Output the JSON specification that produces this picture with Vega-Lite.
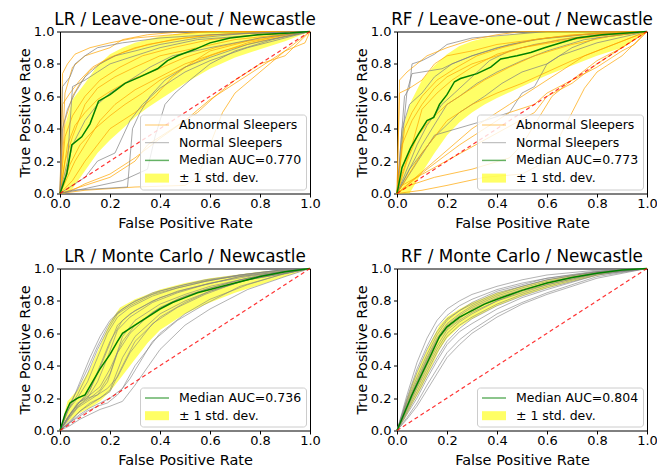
{
"$schema":"https://vega.github.io/schema/vega-lite/v6.json",
"padding":{"left":16,"top":10.5,"right":0,"bottom":0},
"config":{"font":"DejaVu Sans","view":{"stroke":"black","strokeWidth":1},
"axis":{"grid":false,"domain":false,"tickColor":"black","tickSize":3.5,"labelColor":"black","labelFontSize":13,"titleFontSize":14.5,"titleFontWeight":"normal","titleColor":"black","labelFlush":false,"labelOverlap":false,"format":".1f"},
"axisX":{"labelPadding":0,"titlePadding":6},
"axisY":{"labelPadding":2.5,"titlePadding":1},
"title":{"fontSize":16.8,"fontWeight":"normal","color":"black","offset":-3},
"legend":{"orient":"bottom-right","offset":4,"symbolType":"M-2.75,0H9.25","symbolSize":16,"clipHeight":13,"labelFontSize":12.5,"labelColor":"black","labelOffset":22,"rowPadding":4.7,"padding":4,"fillColor":"rgba(255,255,255,0.8)","strokeColor":"#cccccc","cornerRadius":3}},
"datasets":{
"diag":[{"x":0,"y":0},{"x":1,"y":1}],
"tlb":[{"s":"S","x":0,"lo":0,"hi":0},{"s":"S","x":0.02,"lo":0,"hi":0.42},{"s":"S","x":0.05,"lo":0.03,"hi":0.58},{"s":"S","x":0.1,"lo":0.14,"hi":0.68},{"s":"S","x":0.15,"lo":0.25,"hi":0.79},{"s":"S","x":0.2,"lo":0.33,"hi":0.86},{"s":"S","x":0.25,"lo":0.4,"hi":0.9},{"s":"S","x":0.3,"lo":0.47,"hi":0.93},{"s":"S","x":0.35,"lo":0.53,"hi":0.95},{"s":"S","x":0.4,"lo":0.58,"hi":0.97},{"s":"S","x":0.5,"lo":0.68,"hi":0.99},{"s":"S","x":0.6,"lo":0.77,"hi":1},{"s":"S","x":0.7,"lo":0.84,"hi":1},{"s":"S","x":0.8,"lo":0.89,"hi":1},{"s":"S","x":0.9,"lo":0.94,"hi":1},{"s":"S","x":1,"lo":1,"hi":1}],
"tlm":[{"s":"M","x":0,"y":0},{"s":"M","x":0.027,"y":0.12},{"s":"M","x":0.047,"y":0.3},{"s":"M","x":0.087,"y":0.35},{"s":"M","x":0.12,"y":0.43},{"s":"M","x":0.154,"y":0.57},{"s":"M","x":0.2,"y":0.61},{"s":"M","x":0.26,"y":0.68},{"s":"M","x":0.32,"y":0.72},{"s":"M","x":0.39,"y":0.77},{"s":"M","x":0.43,"y":0.82},{"s":"M","x":0.47,"y":0.85},{"s":"M","x":0.54,"y":0.89},{"s":"M","x":0.6,"y":0.93},{"s":"M","x":0.68,"y":0.96},{"s":"M","x":0.79,"y":0.98},{"s":"M","x":0.92,"y":0.99},{"s":"M","x":1,"y":1}],
"tlc":[
{"c":"a1","s":"A","x":0,"y":0},{"c":"a1","s":"A","x":0.01,"y":0.74},{"c":"a1","s":"A","x":0.03,"y":0.8},{"c":"a1","s":"A","x":0.06,"y":0.86},{"c":"a1","s":"A","x":0.12,"y":0.9},{"c":"a1","s":"A","x":0.2,"y":0.93},{"c":"a1","s":"A","x":0.3,"y":0.96},{"c":"a1","s":"A","x":0.45,"y":0.98},{"c":"a1","s":"A","x":0.6,"y":1},{"c":"a1","s":"A","x":1,"y":1},
{"c":"a2","s":"A","x":0,"y":0},{"c":"a2","s":"A","x":0.02,"y":0.45},{"c":"a2","s":"A","x":0.05,"y":0.6},{"c":"a2","s":"A","x":0.08,"y":0.68},{"c":"a2","s":"A","x":0.12,"y":0.76},{"c":"a2","s":"A","x":0.18,"y":0.82},{"c":"a2","s":"A","x":0.25,"y":0.87},{"c":"a2","s":"A","x":0.35,"y":0.92},{"c":"a2","s":"A","x":0.5,"y":0.96},{"c":"a2","s":"A","x":0.7,"y":0.99},{"c":"a2","s":"A","x":1,"y":1},
{"c":"a3","s":"A","x":0,"y":0},{"c":"a3","s":"A","x":0.03,"y":0.3},{"c":"a3","s":"A","x":0.06,"y":0.42},{"c":"a3","s":"A","x":0.1,"y":0.5},{"c":"a3","s":"A","x":0.15,"y":0.58},{"c":"a3","s":"A","x":0.2,"y":0.63},{"c":"a3","s":"A","x":0.28,"y":0.7},{"c":"a3","s":"A","x":0.38,"y":0.76},{"c":"a3","s":"A","x":0.5,"y":0.84},{"c":"a3","s":"A","x":0.62,"y":0.9},{"c":"a3","s":"A","x":0.8,"y":0.96},{"c":"a3","s":"A","x":1,"y":1},
{"c":"a4","s":"A","x":0,"y":0},{"c":"a4","s":"A","x":0.04,"y":0.18},{"c":"a4","s":"A","x":0.08,"y":0.3},{"c":"a4","s":"A","x":0.14,"y":0.4},{"c":"a4","s":"A","x":0.2,"y":0.48},{"c":"a4","s":"A","x":0.26,"y":0.55},{"c":"a4","s":"A","x":0.33,"y":0.62},{"c":"a4","s":"A","x":0.4,"y":0.7},{"c":"a4","s":"A","x":0.5,"y":0.78},{"c":"a4","s":"A","x":0.6,"y":0.85},{"c":"a4","s":"A","x":0.75,"y":0.93},{"c":"a4","s":"A","x":0.9,"y":0.98},{"c":"a4","s":"A","x":1,"y":1},
{"c":"a5","s":"A","x":0,"y":0},{"c":"a5","s":"A","x":0.05,"y":0.02},{"c":"a5","s":"A","x":0.1,"y":0.06},{"c":"a5","s":"A","x":0.2,"y":0.12},{"c":"a5","s":"A","x":0.3,"y":0.22},{"c":"a5","s":"A","x":0.4,"y":0.34},{"c":"a5","s":"A","x":0.5,"y":0.45},{"c":"a5","s":"A","x":0.6,"y":0.58},{"c":"a5","s":"A","x":0.7,"y":0.68},{"c":"a5","s":"A","x":0.8,"y":0.78},{"c":"a5","s":"A","x":0.9,"y":0.88},{"c":"a5","s":"A","x":0.98,"y":0.93},{"c":"a5","s":"A","x":1,"y":1},
{"c":"a6","s":"A","x":0,"y":0},{"c":"a6","s":"A","x":0.1,"y":0.02},{"c":"a6","s":"A","x":0.3,"y":0.04},{"c":"a6","s":"A","x":0.5,"y":0.05},{"c":"a6","s":"A","x":0.55,"y":0.1},{"c":"a6","s":"A","x":0.6,"y":0.3},{"c":"a6","s":"A","x":0.65,"y":0.5},{"c":"a6","s":"A","x":0.7,"y":0.62},{"c":"a6","s":"A","x":0.8,"y":0.75},{"c":"a6","s":"A","x":0.9,"y":0.88},{"c":"a6","s":"A","x":1,"y":1},
{"c":"a7","s":"A","x":0,"y":0},{"c":"a7","s":"A","x":0.01,"y":0.55},{"c":"a7","s":"A","x":0.04,"y":0.62},{"c":"a7","s":"A","x":0.08,"y":0.7},{"c":"a7","s":"A","x":0.13,"y":0.78},{"c":"a7","s":"A","x":0.2,"y":0.84},{"c":"a7","s":"A","x":0.3,"y":0.9},{"c":"a7","s":"A","x":0.45,"y":0.95},{"c":"a7","s":"A","x":0.6,"y":0.98},{"c":"a7","s":"A","x":1,"y":1},
{"c":"a8","s":"A","x":0,"y":0},{"c":"a8","s":"A","x":0.02,"y":0.2},{"c":"a8","s":"A","x":0.05,"y":0.35},{"c":"a8","s":"A","x":0.1,"y":0.55},{"c":"a8","s":"A","x":0.15,"y":0.65},{"c":"a8","s":"A","x":0.22,"y":0.72},{"c":"a8","s":"A","x":0.3,"y":0.78},{"c":"a8","s":"A","x":0.4,"y":0.85},{"c":"a8","s":"A","x":0.55,"y":0.9},{"c":"a8","s":"A","x":0.7,"y":0.95},{"c":"a8","s":"A","x":1,"y":1},
{"c":"a9","s":"A","x":0,"y":0},{"c":"a9","s":"A","x":0.05,"y":0.08},{"c":"a9","s":"A","x":0.1,"y":0.2},{"c":"a9","s":"A","x":0.15,"y":0.3},{"c":"a9","s":"A","x":0.2,"y":0.4},{"c":"a9","s":"A","x":0.3,"y":0.5},{"c":"a9","s":"A","x":0.38,"y":0.6},{"c":"a9","s":"A","x":0.45,"y":0.72},{"c":"a9","s":"A","x":0.52,"y":0.8},{"c":"a9","s":"A","x":0.6,"y":0.88},{"c":"a9","s":"A","x":0.75,"y":0.94},{"c":"a9","s":"A","x":1,"y":1},
{"c":"a10","s":"A","x":0,"y":0},{"c":"a10","s":"A","x":0.02,"y":0.62},{"c":"a10","s":"A","x":0.05,"y":0.78},{"c":"a10","s":"A","x":0.1,"y":0.85},{"c":"a10","s":"A","x":0.2,"y":0.9},{"c":"a10","s":"A","x":0.25,"y":0.95},{"c":"a10","s":"A","x":0.35,"y":0.98},{"c":"a10","s":"A","x":0.5,"y":1},{"c":"a10","s":"A","x":1,"y":1},
{"c":"a11","s":"A","x":0,"y":0},{"c":"a11","s":"A","x":0.1,"y":0.05},{"c":"a11","s":"A","x":0.2,"y":0.1},{"c":"a11","s":"A","x":0.3,"y":0.2},{"c":"a11","s":"A","x":0.35,"y":0.3},{"c":"a11","s":"A","x":0.45,"y":0.4},{"c":"a11","s":"A","x":0.55,"y":0.5},{"c":"a11","s":"A","x":0.62,"y":0.6},{"c":"a11","s":"A","x":0.7,"y":0.7},{"c":"a11","s":"A","x":0.8,"y":0.8},{"c":"a11","s":"A","x":0.9,"y":0.85},{"c":"a11","s":"A","x":1,"y":1},
{"c":"a12","s":"A","x":0,"y":0},{"c":"a12","s":"A","x":0.03,"y":0.1},{"c":"a12","s":"A","x":0.06,"y":0.2},{"c":"a12","s":"A","x":0.1,"y":0.3},{"c":"a12","s":"A","x":0.16,"y":0.45},{"c":"a12","s":"A","x":0.22,"y":0.55},{"c":"a12","s":"A","x":0.3,"y":0.64},{"c":"a12","s":"A","x":0.4,"y":0.72},{"c":"a12","s":"A","x":0.5,"y":0.8},{"c":"a12","s":"A","x":0.65,"y":0.88},{"c":"a12","s":"A","x":0.8,"y":0.94},{"c":"a12","s":"A","x":1,"y":1},
{"c":"a13","s":"A","x":0,"y":0},{"c":"a13","s":"A","x":0.02,"y":0.35},{"c":"a13","s":"A","x":0.05,"y":0.48},{"c":"a13","s":"A","x":0.1,"y":0.6},{"c":"a13","s":"A","x":0.16,"y":0.7},{"c":"a13","s":"A","x":0.24,"y":0.78},{"c":"a13","s":"A","x":0.33,"y":0.85},{"c":"a13","s":"A","x":0.45,"y":0.9},{"c":"a13","s":"A","x":0.6,"y":0.95},{"c":"a13","s":"A","x":0.8,"y":0.98},{"c":"a13","s":"A","x":1,"y":1},
{"c":"n1","s":"N","x":0,"y":0},{"c":"n1","s":"N","x":0.01,"y":0.66},{"c":"n1","s":"N","x":0.04,"y":0.72},{"c":"n1","s":"N","x":0.06,"y":0.8},{"c":"n1","s":"N","x":0.1,"y":0.85},{"c":"n1","s":"N","x":0.15,"y":0.9},{"c":"n1","s":"N","x":0.25,"y":0.93},{"c":"n1","s":"N","x":0.4,"y":0.96},{"c":"n1","s":"N","x":0.6,"y":0.98},{"c":"n1","s":"N","x":1,"y":1},
{"c":"n2","s":"N","x":0,"y":0},{"c":"n2","s":"N","x":0.03,"y":0.2},{"c":"n2","s":"N","x":0.05,"y":0.66},{"c":"n2","s":"N","x":0.1,"y":0.7},{"c":"n2","s":"N","x":0.15,"y":0.75},{"c":"n2","s":"N","x":0.2,"y":0.8},{"c":"n2","s":"N","x":0.3,"y":0.85},{"c":"n2","s":"N","x":0.4,"y":0.9},{"c":"n2","s":"N","x":0.55,"y":0.95},{"c":"n2","s":"N","x":0.8,"y":0.98},{"c":"n2","s":"N","x":1,"y":1},
{"c":"n3","s":"N","x":0,"y":0},{"c":"n3","s":"N","x":0.05,"y":0.02},{"c":"n3","s":"N","x":0.27,"y":0.04},{"c":"n3","s":"N","x":0.29,"y":0.4},{"c":"n3","s":"N","x":0.32,"y":0.5},{"c":"n3","s":"N","x":0.36,"y":0.6},{"c":"n3","s":"N","x":0.42,"y":0.7},{"c":"n3","s":"N","x":0.5,"y":0.78},{"c":"n3","s":"N","x":0.6,"y":0.84},{"c":"n3","s":"N","x":0.75,"y":0.92},{"c":"n3","s":"N","x":0.9,"y":0.97},{"c":"n3","s":"N","x":1,"y":1},
{"c":"n4","s":"N","x":0,"y":0},{"c":"n4","s":"N","x":0.1,"y":0.03},{"c":"n4","s":"N","x":0.25,"y":0.08},{"c":"n4","s":"N","x":0.35,"y":0.15},{"c":"n4","s":"N","x":0.38,"y":0.35},{"c":"n4","s":"N","x":0.42,"y":0.55},{"c":"n4","s":"N","x":0.46,"y":0.62},{"c":"n4","s":"N","x":0.52,"y":0.7},{"c":"n4","s":"N","x":0.6,"y":0.8},{"c":"n4","s":"N","x":0.7,"y":0.88},{"c":"n4","s":"N","x":0.85,"y":0.95},{"c":"n4","s":"N","x":1,"y":1},
{"c":"n5","s":"N","x":0,"y":0},{"c":"n5","s":"N","x":0.02,"y":0.1},{"c":"n5","s":"N","x":0.05,"y":0.3},{"c":"n5","s":"N","x":0.1,"y":0.45},{"c":"n5","s":"N","x":0.15,"y":0.55},{"c":"n5","s":"N","x":0.2,"y":0.62},{"c":"n5","s":"N","x":0.28,"y":0.7},{"c":"n5","s":"N","x":0.36,"y":0.78},{"c":"n5","s":"N","x":0.45,"y":0.85},{"c":"n5","s":"N","x":0.6,"y":0.9},{"c":"n5","s":"N","x":0.8,"y":0.96},{"c":"n5","s":"N","x":1,"y":1},
{"c":"n6","s":"N","x":0,"y":0},{"c":"n6","s":"N","x":0.01,"y":0.4},{"c":"n6","s":"N","x":0.03,"y":0.52},{"c":"n6","s":"N","x":0.06,"y":0.62},{"c":"n6","s":"N","x":0.1,"y":0.72},{"c":"n6","s":"N","x":0.16,"y":0.8},{"c":"n6","s":"N","x":0.22,"y":0.85},{"c":"n6","s":"N","x":0.3,"y":0.88},{"c":"n6","s":"N","x":0.4,"y":0.92},{"c":"n6","s":"N","x":0.55,"y":0.96},{"c":"n6","s":"N","x":0.75,"y":0.99},{"c":"n6","s":"N","x":1,"y":1},
{"c":"n7","s":"N","x":0,"y":0},{"c":"n7","s":"N","x":0.05,"y":0.05},{"c":"n7","s":"N","x":0.1,"y":0.1},{"c":"n7","s":"N","x":0.15,"y":0.2},{"c":"n7","s":"N","x":0.22,"y":0.25},{"c":"n7","s":"N","x":0.28,"y":0.45},{"c":"n7","s":"N","x":0.33,"y":0.55},{"c":"n7","s":"N","x":0.4,"y":0.65},{"c":"n7","s":"N","x":0.5,"y":0.75},{"c":"n7","s":"N","x":0.6,"y":0.82},{"c":"n7","s":"N","x":0.75,"y":0.9},{"c":"n7","s":"N","x":1,"y":1}],
"trb":[{"s":"S","x":0,"lo":0,"hi":0},{"s":"S","x":0.02,"lo":0,"hi":0.38},{"s":"S","x":0.05,"lo":0,"hi":0.55},{"s":"S","x":0.1,"lo":0.13,"hi":0.7},{"s":"S","x":0.15,"lo":0.25,"hi":0.79},{"s":"S","x":0.2,"lo":0.36,"hi":0.86},{"s":"S","x":0.25,"lo":0.44,"hi":0.91},{"s":"S","x":0.3,"lo":0.5,"hi":0.94},{"s":"S","x":0.35,"lo":0.55,"hi":0.96},{"s":"S","x":0.4,"lo":0.59,"hi":0.97},{"s":"S","x":0.5,"lo":0.66,"hi":0.99},{"s":"S","x":0.6,"lo":0.73,"hi":1},{"s":"S","x":0.7,"lo":0.79,"hi":1},{"s":"S","x":0.8,"lo":0.85,"hi":1},{"s":"S","x":0.9,"lo":0.9,"hi":1},{"s":"S","x":1,"lo":1,"hi":1}],
"trm":[{"s":"M","x":0,"y":0},{"s":"M","x":0.02,"y":0.16},{"s":"M","x":0.054,"y":0.28},{"s":"M","x":0.087,"y":0.37},{"s":"M","x":0.12,"y":0.45},{"s":"M","x":0.147,"y":0.47},{"s":"M","x":0.17,"y":0.55},{"s":"M","x":0.2,"y":0.61},{"s":"M","x":0.23,"y":0.69},{"s":"M","x":0.254,"y":0.71},{"s":"M","x":0.32,"y":0.74},{"s":"M","x":0.375,"y":0.78},{"s":"M","x":0.415,"y":0.83},{"s":"M","x":0.48,"y":0.85},{"s":"M","x":0.535,"y":0.87},{"s":"M","x":0.59,"y":0.9},{"s":"M","x":0.656,"y":0.93},{"s":"M","x":0.72,"y":0.96},{"s":"M","x":0.82,"y":0.98},{"s":"M","x":0.92,"y":0.99},{"s":"M","x":1,"y":1}],
"trc":[
{"c":"g1","s":"N","x":0,"y":0},{"c":"g1","s":"N","x":0.03,"y":0.6},{"c":"g1","s":"N","x":0.05,"y":0.65},{"c":"g1","s":"N","x":0.06,"y":0.8},{"c":"g1","s":"N","x":0.1,"y":0.82},{"c":"g1","s":"N","x":0.15,"y":0.86},{"c":"g1","s":"N","x":0.2,"y":0.92},{"c":"g1","s":"N","x":0.3,"y":0.96},{"c":"g1","s":"N","x":0.45,"y":0.98},{"c":"g1","s":"N","x":0.6,"y":1},{"c":"g1","s":"N","x":1,"y":1},
{"c":"g2","s":"N","x":0,"y":0},{"c":"g2","s":"N","x":0.04,"y":0.63},{"c":"g2","s":"N","x":0.06,"y":0.74},{"c":"g2","s":"N","x":0.1,"y":0.75},{"c":"g2","s":"N","x":0.18,"y":0.77},{"c":"g2","s":"N","x":0.22,"y":0.8},{"c":"g2","s":"N","x":0.3,"y":0.85},{"c":"g2","s":"N","x":0.45,"y":0.92},{"c":"g2","s":"N","x":0.6,"y":0.96},{"c":"g2","s":"N","x":0.8,"y":0.99},{"c":"g2","s":"N","x":1,"y":1},
{"c":"g3","s":"N","x":0,"y":0},{"c":"g3","s":"N","x":0.15,"y":0.36},{"c":"g3","s":"N","x":0.35,"y":0.45},{"c":"g3","s":"N","x":0.45,"y":0.5},{"c":"g3","s":"N","x":0.5,"y":0.62},{"c":"g3","s":"N","x":0.55,"y":0.66},{"c":"g3","s":"N","x":0.6,"y":0.8},{"c":"g3","s":"N","x":0.7,"y":0.9},{"c":"g3","s":"N","x":0.8,"y":0.96},{"c":"g3","s":"N","x":1,"y":1},
{"c":"g4","s":"N","x":0,"y":0},{"c":"g4","s":"N","x":0.1,"y":0.3},{"c":"g4","s":"N","x":0.2,"y":0.55},{"c":"g4","s":"N","x":0.25,"y":0.6},{"c":"g4","s":"N","x":0.32,"y":0.68},{"c":"g4","s":"N","x":0.4,"y":0.75},{"c":"g4","s":"N","x":0.5,"y":0.82},{"c":"g4","s":"N","x":0.6,"y":0.88},{"c":"g4","s":"N","x":0.75,"y":0.95},{"c":"g4","s":"N","x":1,"y":1},
{"c":"g5","s":"N","x":0,"y":0},{"c":"g5","s":"N","x":0.05,"y":0.15},{"c":"g5","s":"N","x":0.15,"y":0.35},{"c":"g5","s":"N","x":0.25,"y":0.5},{"c":"g5","s":"N","x":0.35,"y":0.6},{"c":"g5","s":"N","x":0.42,"y":0.68},{"c":"g5","s":"N","x":0.5,"y":0.75},{"c":"g5","s":"N","x":0.6,"y":0.8},{"c":"g5","s":"N","x":0.65,"y":0.85},{"c":"g5","s":"N","x":0.8,"y":0.93},{"c":"g5","s":"N","x":1,"y":1},
{"c":"g6","s":"N","x":0,"y":0},{"c":"g6","s":"N","x":0.08,"y":0.3},{"c":"g6","s":"N","x":0.12,"y":0.42},{"c":"g6","s":"N","x":0.18,"y":0.55},{"c":"g6","s":"N","x":0.23,"y":0.62},{"c":"g6","s":"N","x":0.3,"y":0.72},{"c":"g6","s":"N","x":0.37,"y":0.82},{"c":"g6","s":"N","x":0.45,"y":0.88},{"c":"g6","s":"N","x":0.55,"y":0.92},{"c":"g6","s":"N","x":0.7,"y":0.96},{"c":"g6","s":"N","x":1,"y":1},
{"c":"g7","s":"N","x":0,"y":0},{"c":"g7","s":"N","x":0.02,"y":0.4},{"c":"g7","s":"N","x":0.05,"y":0.55},{"c":"g7","s":"N","x":0.1,"y":0.62},{"c":"g7","s":"N","x":0.15,"y":0.72},{"c":"g7","s":"N","x":0.22,"y":0.8},{"c":"g7","s":"N","x":0.3,"y":0.85},{"c":"g7","s":"N","x":0.4,"y":0.9},{"c":"g7","s":"N","x":0.55,"y":0.95},{"c":"g7","s":"N","x":0.75,"y":0.98},{"c":"g7","s":"N","x":1,"y":1},
{"c":"o1","s":"A","x":0,"y":0},{"c":"o1","s":"A","x":0.01,"y":0.7},{"c":"o1","s":"A","x":0.04,"y":0.75},{"c":"o1","s":"A","x":0.08,"y":0.8},{"c":"o1","s":"A","x":0.12,"y":0.85},{"c":"o1","s":"A","x":0.2,"y":0.9},{"c":"o1","s":"A","x":0.3,"y":0.95},{"c":"o1","s":"A","x":0.4,"y":0.98},{"c":"o1","s":"A","x":0.5,"y":1},{"c":"o1","s":"A","x":1,"y":1},
{"c":"o2","s":"A","x":0,"y":0},{"c":"o2","s":"A","x":0.01,"y":0.62},{"c":"o2","s":"A","x":0.05,"y":0.65},{"c":"o2","s":"A","x":0.1,"y":0.7},{"c":"o2","s":"A","x":0.15,"y":0.8},{"c":"o2","s":"A","x":0.2,"y":0.85},{"c":"o2","s":"A","x":0.3,"y":0.88},{"c":"o2","s":"A","x":0.4,"y":0.92},{"c":"o2","s":"A","x":0.6,"y":0.96},{"c":"o2","s":"A","x":0.8,"y":0.99},{"c":"o2","s":"A","x":1,"y":1},
{"c":"o3","s":"A","x":0,"y":0},{"c":"o3","s":"A","x":0.02,"y":0.05},{"c":"o3","s":"A","x":0.55,"y":0.5},{"c":"o3","s":"A","x":0.6,"y":0.6},{"c":"o3","s":"A","x":0.7,"y":0.68},{"c":"o3","s":"A","x":0.8,"y":0.8},{"c":"o3","s":"A","x":0.9,"y":0.9},{"c":"o3","s":"A","x":1,"y":1},
{"c":"o4","s":"A","x":0,"y":0},{"c":"o4","s":"A","x":0.1,"y":0.02},{"c":"o4","s":"A","x":0.2,"y":0.05},{"c":"o4","s":"A","x":0.35,"y":0.1},{"c":"o4","s":"A","x":0.5,"y":0.12},{"c":"o4","s":"A","x":0.6,"y":0.2},{"c":"o4","s":"A","x":0.65,"y":0.35},{"c":"o4","s":"A","x":0.7,"y":0.5},{"c":"o4","s":"A","x":0.75,"y":0.65},{"c":"o4","s":"A","x":0.8,"y":0.75},{"c":"o4","s":"A","x":0.9,"y":0.85},{"c":"o4","s":"A","x":1,"y":1},
{"c":"o5","s":"A","x":0,"y":0},{"c":"o5","s":"A","x":0.05,"y":0.05},{"c":"o5","s":"A","x":0.15,"y":0.1},{"c":"o5","s":"A","x":0.3,"y":0.15},{"c":"o5","s":"A","x":0.45,"y":0.22},{"c":"o5","s":"A","x":0.5,"y":0.3},{"c":"o5","s":"A","x":0.58,"y":0.5},{"c":"o5","s":"A","x":0.62,"y":0.6},{"c":"o5","s":"A","x":0.7,"y":0.7},{"c":"o5","s":"A","x":0.8,"y":0.82},{"c":"o5","s":"A","x":0.9,"y":0.9},{"c":"o5","s":"A","x":1,"y":1},
{"c":"o6","s":"A","x":0,"y":0},{"c":"o6","s":"A","x":0.04,"y":0.2},{"c":"o6","s":"A","x":0.08,"y":0.35},{"c":"o6","s":"A","x":0.13,"y":0.45},{"c":"o6","s":"A","x":0.2,"y":0.55},{"c":"o6","s":"A","x":0.28,"y":0.63},{"c":"o6","s":"A","x":0.35,"y":0.7},{"c":"o6","s":"A","x":0.45,"y":0.78},{"c":"o6","s":"A","x":0.55,"y":0.85},{"c":"o6","s":"A","x":0.7,"y":0.92},{"c":"o6","s":"A","x":0.85,"y":0.97},{"c":"o6","s":"A","x":1,"y":1},
{"c":"o7","s":"A","x":0,"y":0},{"c":"o7","s":"A","x":0.02,"y":0.3},{"c":"o7","s":"A","x":0.06,"y":0.45},{"c":"o7","s":"A","x":0.1,"y":0.55},{"c":"o7","s":"A","x":0.15,"y":0.65},{"c":"o7","s":"A","x":0.2,"y":0.72},{"c":"o7","s":"A","x":0.3,"y":0.8},{"c":"o7","s":"A","x":0.4,"y":0.85},{"c":"o7","s":"A","x":0.5,"y":0.9},{"c":"o7","s":"A","x":0.65,"y":0.95},{"c":"o7","s":"A","x":0.8,"y":0.98},{"c":"o7","s":"A","x":1,"y":1},
{"c":"o8","s":"A","x":0,"y":0},{"c":"o8","s":"A","x":0.1,"y":0.25},{"c":"o8","s":"A","x":0.2,"y":0.45},{"c":"o8","s":"A","x":0.3,"y":0.55},{"c":"o8","s":"A","x":0.4,"y":0.62},{"c":"o8","s":"A","x":0.5,"y":0.68},{"c":"o8","s":"A","x":0.6,"y":0.75},{"c":"o8","s":"A","x":0.7,"y":0.82},{"c":"o8","s":"A","x":0.8,"y":0.88},{"c":"o8","s":"A","x":0.9,"y":0.94},{"c":"o8","s":"A","x":1,"y":1},
{"c":"o9","s":"A","x":0,"y":0},{"c":"o9","s":"A","x":0.02,"y":0.12},{"c":"o9","s":"A","x":0.06,"y":0.3},{"c":"o9","s":"A","x":0.1,"y":0.52},{"c":"o9","s":"A","x":0.16,"y":0.62},{"c":"o9","s":"A","x":0.22,"y":0.7},{"c":"o9","s":"A","x":0.3,"y":0.78},{"c":"o9","s":"A","x":0.4,"y":0.86},{"c":"o9","s":"A","x":0.5,"y":0.9},{"c":"o9","s":"A","x":0.65,"y":0.94},{"c":"o9","s":"A","x":0.85,"y":0.98},{"c":"o9","s":"A","x":1,"y":1},
{"c":"o10","s":"A","x":0,"y":0},{"c":"o10","s":"A","x":0.03,"y":0.4},{"c":"o10","s":"A","x":0.06,"y":0.5},{"c":"o10","s":"A","x":0.1,"y":0.6},{"c":"o10","s":"A","x":0.16,"y":0.7},{"c":"o10","s":"A","x":0.24,"y":0.78},{"c":"o10","s":"A","x":0.32,"y":0.85},{"c":"o10","s":"A","x":0.42,"y":0.9},{"c":"o10","s":"A","x":0.55,"y":0.95},{"c":"o10","s":"A","x":0.7,"y":0.98},{"c":"o10","s":"A","x":1,"y":1},
{"c":"o11","s":"A","x":0,"y":0},{"c":"o11","s":"A","x":0.12,"y":0.15},{"c":"o11","s":"A","x":0.25,"y":0.3},{"c":"o11","s":"A","x":0.35,"y":0.4},{"c":"o11","s":"A","x":0.45,"y":0.5},{"c":"o11","s":"A","x":0.55,"y":0.55},{"c":"o11","s":"A","x":0.6,"y":0.62},{"c":"o11","s":"A","x":0.7,"y":0.7},{"c":"o11","s":"A","x":0.8,"y":0.78},{"c":"o11","s":"A","x":0.9,"y":0.88},{"c":"o11","s":"A","x":0.95,"y":0.92},{"c":"o11","s":"A","x":1,"y":1},
{"c":"o12","s":"A","x":0,"y":0},{"c":"o12","s":"A","x":0.3,"y":0.4},{"c":"o12","s":"A","x":0.45,"y":0.55},{"c":"o12","s":"A","x":0.6,"y":0.7},{"c":"o12","s":"A","x":0.75,"y":0.85},{"c":"o12","s":"A","x":1,"y":1}],
"blb":[{"s":"S","x":0,"lo":0,"hi":0},{"s":"S","x":0.03,"lo":0.05,"hi":0.18},{"s":"S","x":0.07,"lo":0.1,"hi":0.25},{"s":"S","x":0.12,"lo":0.14,"hi":0.38},{"s":"S","x":0.16,"lo":0.18,"hi":0.52},{"s":"S","x":0.2,"lo":0.24,"hi":0.67},{"s":"S","x":0.24,"lo":0.32,"hi":0.76},{"s":"S","x":0.3,"lo":0.44,"hi":0.81},{"s":"S","x":0.35,"lo":0.54,"hi":0.84},{"s":"S","x":0.4,"lo":0.62,"hi":0.87},{"s":"S","x":0.5,"lo":0.72,"hi":0.91},{"s":"S","x":0.6,"lo":0.79,"hi":0.94},{"s":"S","x":0.7,"lo":0.85,"hi":0.96},{"s":"S","x":0.8,"lo":0.9,"hi":0.98},{"s":"S","x":0.9,"lo":0.95,"hi":0.99},{"s":"S","x":1,"lo":1,"hi":1}],
"blm":[{"s":"M","x":0,"y":0},{"s":"M","x":0.02,"y":0.1},{"s":"M","x":0.04,"y":0.17},{"s":"M","x":0.07,"y":0.2},{"s":"M","x":0.1,"y":0.22},{"s":"M","x":0.13,"y":0.3},{"s":"M","x":0.16,"y":0.38},{"s":"M","x":0.2,"y":0.47},{"s":"M","x":0.23,"y":0.55},{"s":"M","x":0.25,"y":0.6},{"s":"M","x":0.3,"y":0.65},{"s":"M","x":0.35,"y":0.7},{"s":"M","x":0.4,"y":0.75},{"s":"M","x":0.45,"y":0.79},{"s":"M","x":0.5,"y":0.82},{"s":"M","x":0.55,"y":0.85},{"s":"M","x":0.6,"y":0.87},{"s":"M","x":0.7,"y":0.91},{"s":"M","x":0.8,"y":0.95},{"s":"M","x":0.9,"y":0.98},{"s":"M","x":1,"y":1}],
"blc":[
{"c":1,"x":0,"y":0},{"c":1,"x":0.04,"y":0.15},{"c":1,"x":0.08,"y":0.3},{"c":1,"x":0.12,"y":0.45},{"c":1,"x":0.16,"y":0.58},{"c":1,"x":0.2,"y":0.68},{"c":1,"x":0.25,"y":0.75},{"c":1,"x":0.3,"y":0.8},{"c":1,"x":0.4,"y":0.86},{"c":1,"x":0.5,"y":0.9},{"c":1,"x":0.6,"y":0.93},{"c":1,"x":0.75,"y":0.96},{"c":1,"x":0.9,"y":0.99},{"c":1,"x":1,"y":1},
{"c":2,"x":0,"y":0},{"c":2,"x":0.03,"y":0.12},{"c":2,"x":0.07,"y":0.22},{"c":2,"x":0.11,"y":0.35},{"c":2,"x":0.15,"y":0.5},{"c":2,"x":0.19,"y":0.62},{"c":2,"x":0.23,"y":0.72},{"c":2,"x":0.28,"y":0.77},{"c":2,"x":0.37,"y":0.84},{"c":2,"x":0.47,"y":0.88},{"c":2,"x":0.58,"y":0.92},{"c":2,"x":0.72,"y":0.96},{"c":2,"x":0.88,"y":0.99},{"c":2,"x":1,"y":1},
{"c":3,"x":0,"y":0},{"c":3,"x":0.04,"y":0.1},{"c":3,"x":0.08,"y":0.18},{"c":3,"x":0.12,"y":0.25},{"c":3,"x":0.16,"y":0.4},{"c":3,"x":0.2,"y":0.55},{"c":3,"x":0.25,"y":0.68},{"c":3,"x":0.3,"y":0.74},{"c":3,"x":0.4,"y":0.82},{"c":3,"x":0.5,"y":0.87},{"c":3,"x":0.6,"y":0.91},{"c":3,"x":0.75,"y":0.95},{"c":3,"x":0.9,"y":0.98},{"c":3,"x":1,"y":1},
{"c":4,"x":0,"y":0},{"c":4,"x":0.03,"y":0.08},{"c":4,"x":0.07,"y":0.17},{"c":4,"x":0.11,"y":0.2},{"c":4,"x":0.15,"y":0.3},{"c":4,"x":0.19,"y":0.45},{"c":4,"x":0.23,"y":0.62},{"c":4,"x":0.28,"y":0.7},{"c":4,"x":0.37,"y":0.79},{"c":4,"x":0.47,"y":0.85},{"c":4,"x":0.58,"y":0.9},{"c":4,"x":0.72,"y":0.95},{"c":4,"x":0.88,"y":0.98},{"c":4,"x":1,"y":1},
{"c":5,"x":0,"y":0},{"c":5,"x":0.04,"y":0.1},{"c":5,"x":0.08,"y":0.18},{"c":5,"x":0.12,"y":0.22},{"c":5,"x":0.16,"y":0.27},{"c":5,"x":0.2,"y":0.38},{"c":5,"x":0.25,"y":0.55},{"c":5,"x":0.3,"y":0.65},{"c":5,"x":0.4,"y":0.76},{"c":5,"x":0.5,"y":0.83},{"c":5,"x":0.6,"y":0.88},{"c":5,"x":0.75,"y":0.94},{"c":5,"x":0.9,"y":0.98},{"c":5,"x":1,"y":1},
{"c":6,"x":0,"y":0},{"c":6,"x":0.03,"y":0.06},{"c":6,"x":0.07,"y":0.14},{"c":6,"x":0.11,"y":0.18},{"c":6,"x":0.15,"y":0.22},{"c":6,"x":0.19,"y":0.3},{"c":6,"x":0.23,"y":0.48},{"c":6,"x":0.28,"y":0.6},{"c":6,"x":0.37,"y":0.73},{"c":6,"x":0.47,"y":0.81},{"c":6,"x":0.58,"y":0.87},{"c":6,"x":0.72,"y":0.93},{"c":6,"x":0.88,"y":0.98},{"c":6,"x":1,"y":1},
{"c":7,"x":0,"y":0},{"c":7,"x":0.04,"y":0.05},{"c":7,"x":0.08,"y":0.12},{"c":7,"x":0.12,"y":0.16},{"c":7,"x":0.16,"y":0.2},{"c":7,"x":0.2,"y":0.24},{"c":7,"x":0.25,"y":0.4},{"c":7,"x":0.3,"y":0.55},{"c":7,"x":0.4,"y":0.7},{"c":7,"x":0.5,"y":0.79},{"c":7,"x":0.6,"y":0.86},{"c":7,"x":0.75,"y":0.93},{"c":7,"x":0.9,"y":0.97},{"c":7,"x":1,"y":1},
{"c":8,"x":0,"y":0},{"c":8,"x":0.03,"y":0.07},{"c":8,"x":0.07,"y":0.15},{"c":8,"x":0.11,"y":0.2},{"c":8,"x":0.15,"y":0.22},{"c":8,"x":0.19,"y":0.26},{"c":8,"x":0.23,"y":0.33},{"c":8,"x":0.28,"y":0.48},{"c":8,"x":0.37,"y":0.66},{"c":8,"x":0.47,"y":0.76},{"c":8,"x":0.58,"y":0.84},{"c":8,"x":0.72,"y":0.92},{"c":8,"x":0.88,"y":0.97},{"c":8,"x":1,"y":1},
{"c":9,"x":0,"y":0},{"c":9,"x":0.04,"y":0.05},{"c":9,"x":0.08,"y":0.1},{"c":9,"x":0.12,"y":0.14},{"c":9,"x":0.16,"y":0.17},{"c":9,"x":0.2,"y":0.2},{"c":9,"x":0.25,"y":0.26},{"c":9,"x":0.3,"y":0.4},{"c":9,"x":0.4,"y":0.6},{"c":9,"x":0.5,"y":0.72},{"c":9,"x":0.6,"y":0.81},{"c":9,"x":0.75,"y":0.9},{"c":9,"x":0.9,"y":0.97},{"c":9,"x":1,"y":1},
{"c":10,"x":0,"y":0},{"c":10,"x":0.03,"y":0.04},{"c":10,"x":0.07,"y":0.08},{"c":10,"x":0.11,"y":0.12},{"c":10,"x":0.15,"y":0.15},{"c":10,"x":0.19,"y":0.17},{"c":10,"x":0.23,"y":0.22},{"c":10,"x":0.28,"y":0.32},{"c":10,"x":0.37,"y":0.55},{"c":10,"x":0.47,"y":0.68},{"c":10,"x":0.58,"y":0.78},{"c":10,"x":0.72,"y":0.89},{"c":10,"x":0.88,"y":0.96},{"c":10,"x":1,"y":1},
{"c":11,"x":0,"y":0},{"c":11,"x":0.04,"y":0.03},{"c":11,"x":0.08,"y":0.07},{"c":11,"x":0.12,"y":0.1},{"c":11,"x":0.16,"y":0.13},{"c":11,"x":0.2,"y":0.15},{"c":11,"x":0.25,"y":0.18},{"c":11,"x":0.3,"y":0.28},{"c":11,"x":0.4,"y":0.5},{"c":11,"x":0.5,"y":0.65},{"c":11,"x":0.6,"y":0.75},{"c":11,"x":0.75,"y":0.87},{"c":11,"x":0.9,"y":0.95},{"c":11,"x":1,"y":1},
{"c":12,"x":0,"y":0},{"c":12,"x":0.03,"y":0.12},{"c":12,"x":0.07,"y":0.2},{"c":12,"x":0.11,"y":0.3},{"c":12,"x":0.15,"y":0.45},{"c":12,"x":0.19,"y":0.6},{"c":12,"x":0.23,"y":0.7},{"c":12,"x":0.28,"y":0.76},{"c":12,"x":0.37,"y":0.83},{"c":12,"x":0.47,"y":0.88},{"c":12,"x":0.58,"y":0.92},{"c":12,"x":0.72,"y":0.96},{"c":12,"x":0.88,"y":0.99},{"c":12,"x":1,"y":1},
{"c":13,"x":0,"y":0},{"c":13,"x":0.04,"y":0.09},{"c":13,"x":0.08,"y":0.16},{"c":13,"x":0.12,"y":0.2},{"c":13,"x":0.16,"y":0.25},{"c":13,"x":0.2,"y":0.35},{"c":13,"x":0.25,"y":0.58},{"c":13,"x":0.3,"y":0.68},{"c":13,"x":0.4,"y":0.78},{"c":13,"x":0.5,"y":0.84},{"c":13,"x":0.6,"y":0.89},{"c":13,"x":0.75,"y":0.94},{"c":13,"x":0.9,"y":0.98},{"c":13,"x":1,"y":1},
{"c":14,"x":0,"y":0},{"c":14,"x":0.03,"y":0.14},{"c":14,"x":0.07,"y":0.25},{"c":14,"x":0.11,"y":0.38},{"c":14,"x":0.15,"y":0.52},{"c":14,"x":0.19,"y":0.64},{"c":14,"x":0.23,"y":0.73},{"c":14,"x":0.28,"y":0.78},{"c":14,"x":0.37,"y":0.85},{"c":14,"x":0.47,"y":0.89},{"c":14,"x":0.58,"y":0.93},{"c":14,"x":0.72,"y":0.96},{"c":14,"x":0.88,"y":0.99},{"c":14,"x":1,"y":1},
{"c":15,"x":0,"y":0},{"c":15,"x":0.04,"y":0.06},{"c":15,"x":0.08,"y":0.12},{"c":15,"x":0.12,"y":0.17},{"c":15,"x":0.16,"y":0.2},{"c":15,"x":0.2,"y":0.25},{"c":15,"x":0.25,"y":0.45},{"c":15,"x":0.3,"y":0.58},{"c":15,"x":0.4,"y":0.72},{"c":15,"x":0.5,"y":0.8},{"c":15,"x":0.6,"y":0.86},{"c":15,"x":0.75,"y":0.93},{"c":15,"x":0.9,"y":0.97},{"c":15,"x":1,"y":1},
{"c":16,"x":0,"y":0},{"c":16,"x":0.03,"y":0.08},{"c":16,"x":0.07,"y":0.16},{"c":16,"x":0.11,"y":0.22},{"c":16,"x":0.15,"y":0.35},{"c":16,"x":0.19,"y":0.5},{"c":16,"x":0.23,"y":0.65},{"c":16,"x":0.28,"y":0.72},{"c":16,"x":0.37,"y":0.8},{"c":16,"x":0.47,"y":0.86},{"c":16,"x":0.58,"y":0.9},{"c":16,"x":0.72,"y":0.95},{"c":16,"x":0.88,"y":0.98},{"c":16,"x":1,"y":1}],
"brb":[{"s":"S","x":0,"lo":0,"hi":0},{"s":"S","x":0.03,"lo":0.07,"hi":0.15},{"s":"S","x":0.06,"lo":0.16,"hi":0.29},{"s":"S","x":0.1,"lo":0.27,"hi":0.43},{"s":"S","x":0.14,"lo":0.4,"hi":0.56},{"s":"S","x":0.17,"lo":0.5,"hi":0.65},{"s":"S","x":0.2,"lo":0.57,"hi":0.7},{"s":"S","x":0.25,"lo":0.64,"hi":0.75},{"s":"S","x":0.3,"lo":0.69,"hi":0.79},{"s":"S","x":0.35,"lo":0.73,"hi":0.82},{"s":"S","x":0.4,"lo":0.77,"hi":0.85},{"s":"S","x":0.5,"lo":0.83,"hi":0.89},{"s":"S","x":0.6,"lo":0.88,"hi":0.93},{"s":"S","x":0.7,"lo":0.92,"hi":0.96},{"s":"S","x":0.8,"lo":0.955,"hi":0.98},{"s":"S","x":0.9,"lo":0.985,"hi":0.995},{"s":"S","x":1,"lo":1,"hi":1}],
"brm":[{"s":"M","x":0,"y":0},{"s":"M","x":0.03,"y":0.11},{"s":"M","x":0.06,"y":0.22},{"s":"M","x":0.1,"y":0.35},{"s":"M","x":0.14,"y":0.48},{"s":"M","x":0.17,"y":0.58},{"s":"M","x":0.2,"y":0.64},{"s":"M","x":0.25,"y":0.7},{"s":"M","x":0.3,"y":0.74},{"s":"M","x":0.35,"y":0.78},{"s":"M","x":0.4,"y":0.81},{"s":"M","x":0.5,"y":0.865},{"s":"M","x":0.6,"y":0.91},{"s":"M","x":0.7,"y":0.945},{"s":"M","x":0.8,"y":0.97},{"s":"M","x":0.9,"y":0.99},{"s":"M","x":1,"y":1}],
"brc":[
{"c":1,"x":0,"y":0},{"c":1,"x":0.04,"y":0.22},{"c":1,"x":0.08,"y":0.42},{"c":1,"x":0.12,"y":0.57},{"c":1,"x":0.16,"y":0.68},{"c":1,"x":0.2,"y":0.75},{"c":1,"x":0.25,"y":0.8},{"c":1,"x":0.3,"y":0.84},{"c":1,"x":0.4,"y":0.89},{"c":1,"x":0.5,"y":0.93},{"c":1,"x":0.6,"y":0.96},{"c":1,"x":0.8,"y":0.99},{"c":1,"x":1,"y":1},
{"c":2,"x":0,"y":0},{"c":2,"x":0.04,"y":0.2},{"c":2,"x":0.08,"y":0.38},{"c":2,"x":0.12,"y":0.52},{"c":2,"x":0.16,"y":0.64},{"c":2,"x":0.2,"y":0.71},{"c":2,"x":0.25,"y":0.77},{"c":2,"x":0.3,"y":0.81},{"c":2,"x":0.4,"y":0.87},{"c":2,"x":0.5,"y":0.91},{"c":2,"x":0.6,"y":0.94},{"c":2,"x":0.8,"y":0.985},{"c":2,"x":1,"y":1},
{"c":3,"x":0,"y":0},{"c":3,"x":0.04,"y":0.18},{"c":3,"x":0.08,"y":0.33},{"c":3,"x":0.12,"y":0.47},{"c":3,"x":0.16,"y":0.59},{"c":3,"x":0.2,"y":0.68},{"c":3,"x":0.25,"y":0.74},{"c":3,"x":0.3,"y":0.78},{"c":3,"x":0.4,"y":0.85},{"c":3,"x":0.5,"y":0.89},{"c":3,"x":0.6,"y":0.93},{"c":3,"x":0.8,"y":0.98},{"c":3,"x":1,"y":1},
{"c":4,"x":0,"y":0},{"c":4,"x":0.04,"y":0.16},{"c":4,"x":0.08,"y":0.3},{"c":4,"x":0.12,"y":0.44},{"c":4,"x":0.16,"y":0.56},{"c":4,"x":0.2,"y":0.65},{"c":4,"x":0.25,"y":0.71},{"c":4,"x":0.3,"y":0.76},{"c":4,"x":0.4,"y":0.83},{"c":4,"x":0.5,"y":0.88},{"c":4,"x":0.6,"y":0.92},{"c":4,"x":0.8,"y":0.975},{"c":4,"x":1,"y":1},
{"c":5,"x":0,"y":0},{"c":5,"x":0.04,"y":0.14},{"c":5,"x":0.08,"y":0.27},{"c":5,"x":0.12,"y":0.4},{"c":5,"x":0.16,"y":0.52},{"c":5,"x":0.2,"y":0.62},{"c":5,"x":0.25,"y":0.68},{"c":5,"x":0.3,"y":0.73},{"c":5,"x":0.4,"y":0.8},{"c":5,"x":0.5,"y":0.86},{"c":5,"x":0.6,"y":0.9},{"c":5,"x":0.8,"y":0.97},{"c":5,"x":1,"y":1},
{"c":6,"x":0,"y":0},{"c":6,"x":0.04,"y":0.12},{"c":6,"x":0.08,"y":0.24},{"c":6,"x":0.12,"y":0.36},{"c":6,"x":0.16,"y":0.48},{"c":6,"x":0.2,"y":0.58},{"c":6,"x":0.25,"y":0.65},{"c":6,"x":0.3,"y":0.7},{"c":6,"x":0.4,"y":0.78},{"c":6,"x":0.5,"y":0.84},{"c":6,"x":0.6,"y":0.89},{"c":6,"x":0.8,"y":0.965},{"c":6,"x":1,"y":1},
{"c":7,"x":0,"y":0},{"c":7,"x":0.04,"y":0.1},{"c":7,"x":0.08,"y":0.2},{"c":7,"x":0.12,"y":0.32},{"c":7,"x":0.16,"y":0.43},{"c":7,"x":0.2,"y":0.53},{"c":7,"x":0.25,"y":0.61},{"c":7,"x":0.3,"y":0.66},{"c":7,"x":0.4,"y":0.75},{"c":7,"x":0.5,"y":0.82},{"c":7,"x":0.6,"y":0.87},{"c":7,"x":0.8,"y":0.96},{"c":7,"x":1,"y":1},
{"c":8,"x":0,"y":0},{"c":8,"x":0.04,"y":0.08},{"c":8,"x":0.08,"y":0.17},{"c":8,"x":0.12,"y":0.28},{"c":8,"x":0.16,"y":0.38},{"c":8,"x":0.2,"y":0.48},{"c":8,"x":0.25,"y":0.56},{"c":8,"x":0.3,"y":0.62},{"c":8,"x":0.4,"y":0.72},{"c":8,"x":0.5,"y":0.79},{"c":8,"x":0.6,"y":0.85},{"c":8,"x":0.8,"y":0.95},{"c":8,"x":1,"y":1},
{"c":9,"x":0,"y":0},{"c":9,"x":0.04,"y":0.07},{"c":9,"x":0.08,"y":0.15},{"c":9,"x":0.12,"y":0.25},{"c":9,"x":0.16,"y":0.35},{"c":9,"x":0.2,"y":0.45},{"c":9,"x":0.25,"y":0.53},{"c":9,"x":0.3,"y":0.6},{"c":9,"x":0.4,"y":0.7},{"c":9,"x":0.5,"y":0.78},{"c":9,"x":0.6,"y":0.84},{"c":9,"x":0.8,"y":0.94},{"c":9,"x":1,"y":1},
{"c":10,"x":0,"y":0},{"c":10,"x":0.04,"y":0.19},{"c":10,"x":0.08,"y":0.36},{"c":10,"x":0.12,"y":0.5},{"c":10,"x":0.16,"y":0.61},{"c":10,"x":0.2,"y":0.69},{"c":10,"x":0.25,"y":0.74},{"c":10,"x":0.3,"y":0.79},{"c":10,"x":0.4,"y":0.86},{"c":10,"x":0.5,"y":0.9},{"c":10,"x":0.6,"y":0.94},{"c":10,"x":0.8,"y":0.98},{"c":10,"x":1,"y":1},
{"c":11,"x":0,"y":0},{"c":11,"x":0.04,"y":0.13},{"c":11,"x":0.08,"y":0.26},{"c":11,"x":0.12,"y":0.38},{"c":11,"x":0.16,"y":0.5},{"c":11,"x":0.2,"y":0.6},{"c":11,"x":0.25,"y":0.67},{"c":11,"x":0.3,"y":0.72},{"c":11,"x":0.4,"y":0.8},{"c":11,"x":0.5,"y":0.85},{"c":11,"x":0.6,"y":0.9},{"c":11,"x":0.8,"y":0.97},{"c":11,"x":1,"y":1},
{"c":12,"x":0,"y":0},{"c":12,"x":0.04,"y":0.17},{"c":12,"x":0.08,"y":0.31},{"c":12,"x":0.12,"y":0.45},{"c":12,"x":0.16,"y":0.57},{"c":12,"x":0.2,"y":0.66},{"c":12,"x":0.25,"y":0.72},{"c":12,"x":0.3,"y":0.77},{"c":12,"x":0.4,"y":0.84},{"c":12,"x":0.5,"y":0.89},{"c":12,"x":0.6,"y":0.93},{"c":12,"x":0.8,"y":0.98},{"c":12,"x":1,"y":1},
{"c":13,"x":0,"y":0},{"c":13,"x":0.04,"y":0.11},{"c":13,"x":0.08,"y":0.22},{"c":13,"x":0.12,"y":0.34},{"c":13,"x":0.16,"y":0.45},{"c":13,"x":0.2,"y":0.55},{"c":13,"x":0.25,"y":0.63},{"c":13,"x":0.3,"y":0.69},{"c":13,"x":0.4,"y":0.77},{"c":13,"x":0.5,"y":0.83},{"c":13,"x":0.6,"y":0.88},{"c":13,"x":0.8,"y":0.96},{"c":13,"x":1,"y":1},
{"c":14,"x":0,"y":0},{"c":14,"x":0.04,"y":0.15},{"c":14,"x":0.08,"y":0.29},{"c":14,"x":0.12,"y":0.43},{"c":14,"x":0.16,"y":0.55},{"c":14,"x":0.2,"y":0.63},{"c":14,"x":0.25,"y":0.69},{"c":14,"x":0.3,"y":0.75},{"c":14,"x":0.4,"y":0.82},{"c":14,"x":0.5,"y":0.87},{"c":14,"x":0.6,"y":0.91},{"c":14,"x":0.8,"y":0.975},{"c":14,"x":1,"y":1}]
},
"vconcat":[
{"hconcat":[
{"width":250,"height":162,"title":"LR / Leave-one-out / Newcastle","layer":[
{"data":{"name":"tlb"},"mark":{"type":"area","opacity":0.6},"encoding":{
"x":{"field":"x","type":"quantitative","scale":{"domain":[0,1],"nice":false},"axis":{"title":"False Positive Rate","values":[0,0.2,0.4,0.6,0.8,1],"tickCount":6}},
"y":{"field":"lo","type":"quantitative","scale":{"domain":[0,1],"nice":false},"axis":{"title":"True Positive Rate","values":[0,0.2,0.4,0.6,0.8,1],"tickCount":6}},
"y2":{"field":"hi"},
"color":{"field":"s","type":"nominal","scale":{"domain":["A","N","M","S"],"range":["orange","gray","green","yellow"]},"legend":{"title":null,"labelExpr":"datum.value==='A'?'Abnormal Sleepers':datum.value==='N'?'Normal Sleepers':datum.value==='M'?'Median AUC=0.770':'± 1 std. dev.'"}}}},
{"data":{"name":"tlc"},"mark":{"type":"line","opacity":0.7},"encoding":{"x":{"field":"x","type":"quantitative"},"y":{"field":"y","type":"quantitative"},"detail":{"field":"c"},"color":{"field":"s","type":"nominal"},"strokeWidth":{"field":"s","type":"ordinal","scale":{"type":"ordinal","domain":["A","N","M","S"],"range":[1,1,1.5,9]},"legend":{"title":null,"labelExpr":"datum.value==='A'?'Abnormal Sleepers':datum.value==='N'?'Normal Sleepers':datum.value==='M'?'Median AUC=0.770':'± 1 std. dev.'"}}}},
{"data":{"name":"tlm"},"mark":{"type":"line","strokeWidth":1.5},"encoding":{"x":{"field":"x","type":"quantitative"},"y":{"field":"y","type":"quantitative"},"color":{"field":"s","type":"nominal"}}},
{"data":{"name":"diag"},"mark":{"type":"line","color":"red","strokeDash":[4,3],"strokeWidth":1.2,"opacity":0.8},"encoding":{"x":{"field":"x","type":"quantitative"},"y":{"field":"y","type":"quantitative"}}}]},
{"width":250,"height":162,"title":"RF / Leave-one-out / Newcastle","layer":[
{"data":{"name":"trb"},"mark":{"type":"area","opacity":0.6},"encoding":{
"x":{"field":"x","type":"quantitative","scale":{"domain":[0,1],"nice":false},"axis":{"title":"False Positive Rate","values":[0,0.2,0.4,0.6,0.8,1],"tickCount":6}},
"y":{"field":"lo","type":"quantitative","scale":{"domain":[0,1],"nice":false},"axis":{"title":"True Positive Rate","values":[0,0.2,0.4,0.6,0.8,1],"tickCount":6}},
"y2":{"field":"hi"},
"color":{"field":"s","type":"nominal","scale":{"domain":["A","N","M","S"],"range":["orange","gray","green","yellow"]},"legend":{"title":null,"labelExpr":"datum.value==='A'?'Abnormal Sleepers':datum.value==='N'?'Normal Sleepers':datum.value==='M'?'Median AUC=0.773':'± 1 std. dev.'"}}}},
{"data":{"name":"trc"},"mark":{"type":"line","opacity":0.7},"encoding":{"x":{"field":"x","type":"quantitative"},"y":{"field":"y","type":"quantitative"},"detail":{"field":"c"},"color":{"field":"s","type":"nominal"},"strokeWidth":{"field":"s","type":"ordinal","scale":{"type":"ordinal","domain":["A","N","M","S"],"range":[1,1,1.5,9]},"legend":{"title":null,"labelExpr":"datum.value==='A'?'Abnormal Sleepers':datum.value==='N'?'Normal Sleepers':datum.value==='M'?'Median AUC=0.773':'± 1 std. dev.'"}}}},
{"data":{"name":"trm"},"mark":{"type":"line","strokeWidth":1.5},"encoding":{"x":{"field":"x","type":"quantitative"},"y":{"field":"y","type":"quantitative"},"color":{"field":"s","type":"nominal"}}},
{"data":{"name":"diag"},"mark":{"type":"line","color":"red","strokeDash":[4,3],"strokeWidth":1.2,"opacity":0.8},"encoding":{"x":{"field":"x","type":"quantitative"},"y":{"field":"y","type":"quantitative"}}}]}
],"spacing":32,"resolve":{"scale":{"color":"independent","strokeWidth":"independent"},"legend":{"color":"independent","strokeWidth":"independent"}}},
{"hconcat":[
{"width":250,"height":162,"title":"LR / Monte Carlo / Newcastle","layer":[
{"data":{"name":"blb"},"mark":{"type":"area","opacity":0.6},"encoding":{
"x":{"field":"x","type":"quantitative","scale":{"domain":[0,1],"nice":false},"axis":{"title":"False Positive Rate","values":[0,0.2,0.4,0.6,0.8,1],"tickCount":6}},
"y":{"field":"lo","type":"quantitative","scale":{"domain":[0,1],"nice":false},"axis":{"title":"True Positive Rate","values":[0,0.2,0.4,0.6,0.8,1],"tickCount":6}},
"y2":{"field":"hi"},
"color":{"field":"s","type":"nominal","scale":{"domain":["M","S"],"range":["green","yellow"]},"legend":{"title":null,"labelExpr":"datum.value==='M'?'Median AUC=0.736':'± 1 std. dev.'"}}}},
{"data":{"name":"blc"},"mark":{"type":"line","strokeWidth":1,"opacity":0.6,"color":"gray"},"encoding":{"x":{"field":"x","type":"quantitative"},"y":{"field":"y","type":"quantitative"},"detail":{"field":"c"}}},
{"data":{"name":"blm"},"mark":{"type":"line"},"encoding":{"x":{"field":"x","type":"quantitative"},"y":{"field":"y","type":"quantitative"},"color":{"field":"s","type":"nominal"},"strokeWidth":{"field":"s","type":"ordinal","scale":{"type":"ordinal","domain":["M","S"],"range":[1.5,9]},"legend":{"title":null,"labelExpr":"datum.value==='M'?'Median AUC=0.736':'± 1 std. dev.'"}}}},
{"data":{"name":"diag"},"mark":{"type":"line","color":"red","strokeDash":[4,3],"strokeWidth":1.2,"opacity":0.8},"encoding":{"x":{"field":"x","type":"quantitative"},"y":{"field":"y","type":"quantitative"}}}]},
{"width":250,"height":162,"title":"RF / Monte Carlo / Newcastle","layer":[
{"data":{"name":"brb"},"mark":{"type":"area","opacity":0.6},"encoding":{
"x":{"field":"x","type":"quantitative","scale":{"domain":[0,1],"nice":false},"axis":{"title":"False Positive Rate","values":[0,0.2,0.4,0.6,0.8,1],"tickCount":6}},
"y":{"field":"lo","type":"quantitative","scale":{"domain":[0,1],"nice":false},"axis":{"title":"True Positive Rate","values":[0,0.2,0.4,0.6,0.8,1],"tickCount":6}},
"y2":{"field":"hi"},
"color":{"field":"s","type":"nominal","scale":{"domain":["M","S"],"range":["green","yellow"]},"legend":{"title":null,"labelExpr":"datum.value==='M'?'Median AUC=0.804':'± 1 std. dev.'"}}}},
{"data":{"name":"brc"},"mark":{"type":"line","strokeWidth":1,"opacity":0.6,"color":"gray"},"encoding":{"x":{"field":"x","type":"quantitative"},"y":{"field":"y","type":"quantitative"},"detail":{"field":"c"}}},
{"data":{"name":"brm"},"mark":{"type":"line"},"encoding":{"x":{"field":"x","type":"quantitative"},"y":{"field":"y","type":"quantitative"},"color":{"field":"s","type":"nominal"},"strokeWidth":{"field":"s","type":"ordinal","scale":{"type":"ordinal","domain":["M","S"],"range":[1.5,9]},"legend":{"title":null,"labelExpr":"datum.value==='M'?'Median AUC=0.804':'± 1 std. dev.'"}}}},
{"data":{"name":"diag"},"mark":{"type":"line","color":"red","strokeDash":[4,3],"strokeWidth":1.2,"opacity":0.8},"encoding":{"x":{"field":"x","type":"quantitative"},"y":{"field":"y","type":"quantitative"}}}]}
],"spacing":32,"resolve":{"scale":{"color":"independent","strokeWidth":"independent"},"legend":{"color":"independent","strokeWidth":"independent"}}}
],
"spacing":17,
"resolve":{"scale":{"color":"independent","strokeWidth":"independent"},"legend":{"color":"independent","strokeWidth":"independent"}}
}
